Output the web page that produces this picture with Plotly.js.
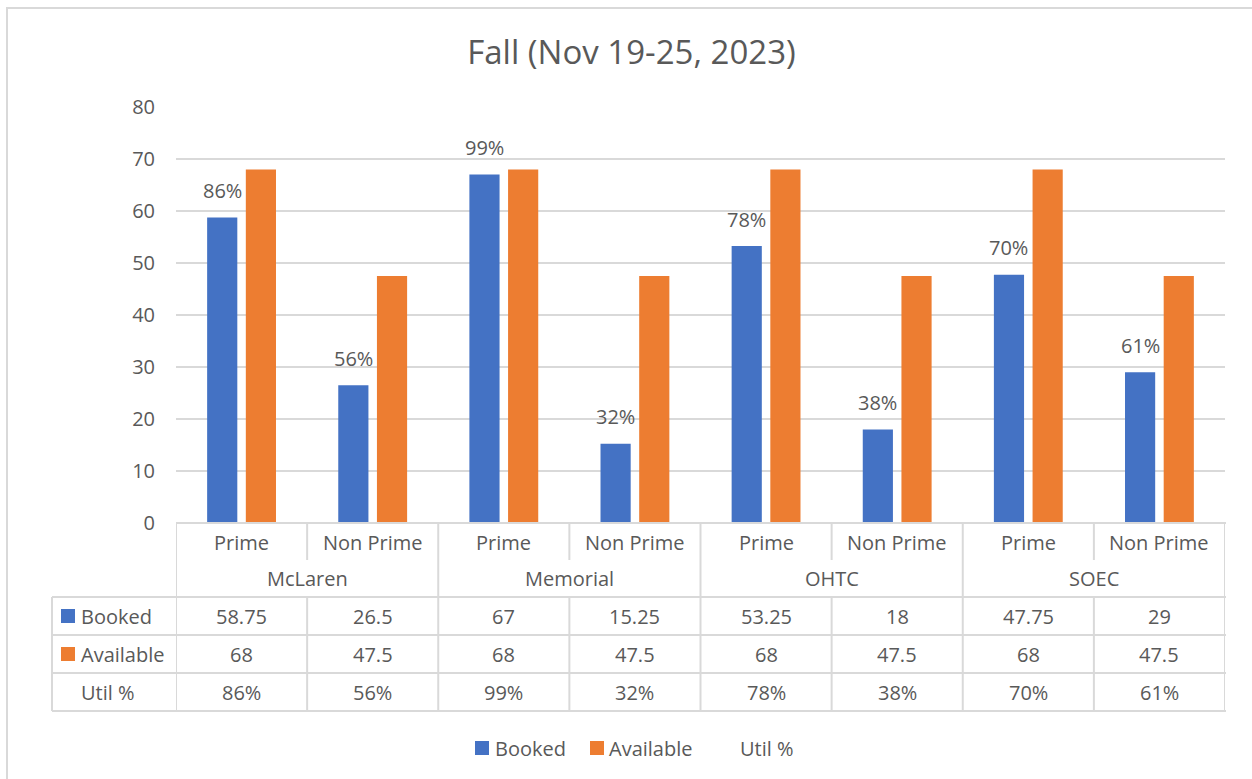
<!DOCTYPE html>
<html>
<head>
<meta charset="utf-8">
<script src="https://cdn.plot.ly/plotly-3.0.1.min.js"></script>
<style>html,body{margin:0;padding:0;background:#fff;}#chart{width:1252px;height:779px;}</style>
</head>
<body>
<div id="chart"></div>
<script>
const categories = ['Prime', 'Non Prime', 'Prime', 'Non Prime', 'Prime', 'Non Prime', 'Prime', 'Non Prime'];
const groups = ['McLaren', 'Memorial', 'OHTC', 'SOEC'];
const booked = [58.75, 26.5, 67, 15.25, 53.25, 18, 47.75, 29];
const available = [68, 47.5, 68, 47.5, 68, 47.5, 68, 47.5];
const utilPct = ['86%', '56%', '99%', '32%', '78%', '38%', '70%', '61%'];
const seriesNames = ['Booked', 'Available', 'Util %'];
const yTicks = [0, 10, 20, 30, 40, 50, 60, 70, 80];

const BLUE = '#4472C4', ORANGE = '#ED7D31', TXT = '#595959', GRID = '#D9D9D9';
const FONT = 'Open Sans, Noto Sans, sans-serif';
const W = 1252, H = 779;
const L = 176, R = 1225, T = 107, B = 523;
const px = v => (v - L) / (R - L);
const py = v => (B - v) / (B - T);
const idx = categories.map((_, i) => i);
const BAR_GAP = 0.41, GROUP_GAP = 0.22;
const blueOffset = -(1 - BAR_GAP) / 4;

const traces = [
  {type: 'bar', x: idx, y: booked, name: seriesNames[0], marker: {color: BLUE}, showlegend: false, hoverinfo: 'y'},
  {type: 'bar', x: idx, y: available, name: seriesNames[1], marker: {color: ORANGE}, showlegend: false, hoverinfo: 'y'}
];

const shapes = [];
const annotations = [];
const line = {color: GRID, width: 2};

// outer chart border (left/top visible)
shapes.push({type: 'rect', xref: 'paper', yref: 'paper', x0: px(7), x1: px(1300), y0: py(8), y1: py(820), line: {color: '#D9D9D9', width: 2}, layer: 'below'});

// table horizontal lines
shapes.push({type: 'line', xref: 'paper', yref: 'paper', x0: px(176), x1: px(1226), y0: py(523), y1: py(523), line});
[597, 635, 673, 711].forEach(yv => shapes.push({type: 'line', xref: 'paper', yref: 'paper', x0: px(52), x1: px(1226), y0: py(yv), y1: py(yv), line}));
// left border of row-label column
shapes.push({type: 'line', xref: 'paper', yref: 'paper', x0: px(52), x1: px(52), y0: py(597), y1: py(711), line});
// vertical dividers
for (let k = 0; k <= categories.length; k++) {
  const isGroup = k % 2 === 0;
  shapes.push({type: 'line', xref: 'x', yref: 'paper', x0: k - 0.5, x1: k - 0.5, y0: py(523), y1: py(isGroup ? 711 : 560), line});
  if (!isGroup) {
    shapes.push({type: 'line', xref: 'x', yref: 'paper', x0: k - 0.5, x1: k - 0.5, y0: py(597), y1: py(711), line});
  }
}

const tfont = {family: FONT, size: 20, color: TXT};
function txt(x, xref, yv, text, anchor) {
  annotations.push({x: x, xref: xref, y: py(yv), yref: 'paper', text: text, showarrow: false, xanchor: anchor || 'center', yanchor: 'middle', font: tfont});
}
categories.forEach((c, i) => {
  txt(i, 'x', 542, c);
  txt(i, 'x', 616, String(booked[i]));
  txt(i, 'x', 654, String(available[i]));
  txt(i, 'x', 692, utilPct[i]);
  annotations.push({x: i + blueOffset, xref: 'x', y: booked[i], yref: 'y', yshift: 27, text: utilPct[i], showarrow: false, xanchor: 'center', yanchor: 'middle', font: tfont});
});
groups.forEach((g, j) => txt(2 * j + 0.5, 'x', 578, g));

// row labels
shapes.push({type: 'rect', xref: 'paper', yref: 'paper', x0: px(61), x1: px(75), y0: py(609), y1: py(623), fillcolor: BLUE, line: {width: 0}});
shapes.push({type: 'rect', xref: 'paper', yref: 'paper', x0: px(61), x1: px(75), y0: py(647), y1: py(661), fillcolor: ORANGE, line: {width: 0}});
txt(px(79), 'paper', 616, seriesNames[0], 'left');
txt(px(79), 'paper', 654, seriesNames[1], 'left');
txt(px(79), 'paper', 692, seriesNames[2], 'left');

// legend
shapes.push({type: 'rect', xref: 'paper', yref: 'paper', x0: px(475), x1: px(489), y0: py(741), y1: py(755), fillcolor: BLUE, line: {width: 0}});
shapes.push({type: 'rect', xref: 'paper', yref: 'paper', x0: px(590), x1: px(604), y0: py(741), y1: py(755), fillcolor: ORANGE, line: {width: 0}});
txt(px(493), 'paper', 748, seriesNames[0], 'left');
txt(px(607), 'paper', 748, seriesNames[1], 'left');
txt(px(738), 'paper', 748, seriesNames[2], 'left');

const layout = {
  width: W, height: H,
  margin: {l: L, r: W - R, t: T, b: H - B, pad: 0},
  paper_bgcolor: '#fff', plot_bgcolor: '#fff',
  title: {text: 'Fall (Nov 19-25, 2023)', x: 631.5 / W, xanchor: 'center', y: 1 - 52 / H, yanchor: 'middle', font: {family: FONT, size: 33, color: TXT}},
  barmode: 'group', bargap: BAR_GAP, bargroupgap: GROUP_GAP,
  showlegend: false,
  xaxis: {range: [-0.5, categories.length - 0.5], showticklabels: false, showgrid: false, zeroline: false, showline: false, ticks: '', fixedrange: true},
  yaxis: {range: [0, 80], tickvals: yTicks, ticktext: yTicks.map(String), showgrid: true, gridcolor: GRID, gridwidth: 2, zeroline: false, showline: false, ticks: '', ticklabelstandoff: 20, tickfont: {family: FONT, size: 20, color: TXT}, fixedrange: true},
  shapes: shapes,
  annotations: annotations
};

Plotly.newPlot('chart', traces, layout, {displayModeBar: false, staticPlot: true});
</script>
</body>
</html>
